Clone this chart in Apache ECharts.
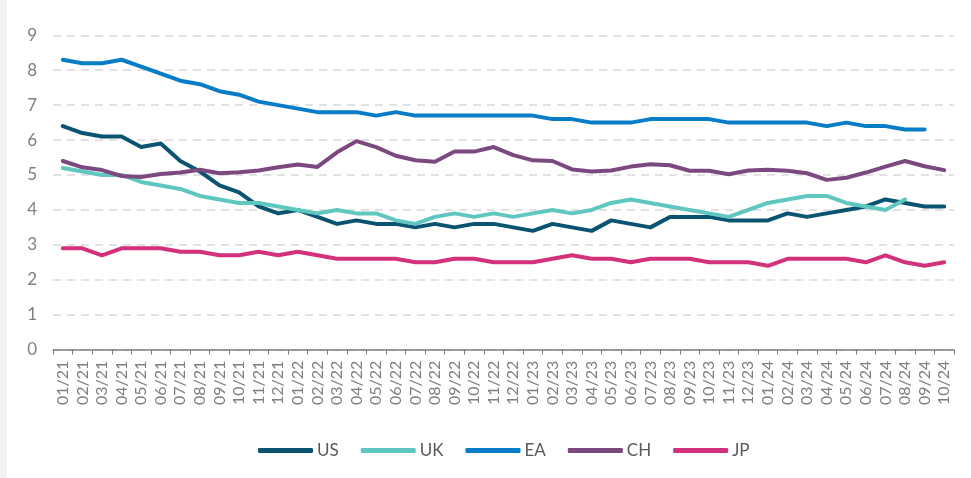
<!DOCTYPE html>
<html>
<head>
<meta charset="utf-8">
<script src="https://cdn.jsdelivr.net/npm/echarts@6/dist/echarts.min.js"></script>
<style>
html,body{margin:0;padding:0;background:#fff;}
#strip{position:absolute;left:0;top:0;width:7px;height:478px;background:#f2f2f2;}
#chart{position:absolute;left:0;top:0;width:971px;height:478px;}
</style>
</head>
<body>
<div id="strip"></div>
<div id="chart"></div>
<script>
const categories = ["01/21","02/21","03/21","04/21","05/21","06/21","07/21","08/21","09/21","10/21","11/21","12/21",
"01/22","02/22","03/22","04/22","05/22","06/22","07/22","08/22","09/22","10/22","11/22","12/22",
"01/23","02/23","03/23","04/23","05/23","06/23","07/23","08/23","09/23","10/23","11/23","12/23",
"01/24","02/24","03/24","04/24","05/24","06/24","07/24","08/24","09/24","10/24"];

const usValues = [6.4,6.2,6.1,6.1,5.8,5.9,5.4,5.1,4.7,4.5,4.1,3.9,4.0,3.8,3.6,3.7,3.6,3.6,3.5,3.6,3.5,3.6,3.6,3.5,3.4,3.6,3.5,3.4,3.7,3.6,3.5,3.8,3.8,3.8,3.7,3.7,3.7,3.9,3.8,3.9,4.0,4.1,4.3,4.2,4.1,4.1];
const ukValues = [5.2,5.1,5.0,5.0,4.8,4.7,4.6,4.4,4.3,4.2,4.2,4.1,4.0,3.9,4.0,3.9,3.9,3.7,3.6,3.8,3.9,3.8,3.9,3.8,3.9,4.0,3.9,4.0,4.2,4.3,4.2,4.1,4.0,3.9,3.8,4.0,4.2,4.3,4.4,4.4,4.2,4.1,4.0,4.3,null,null];
const eaValues = [8.3,8.2,8.2,8.3,8.1,7.9,7.7,7.6,7.4,7.3,7.1,7.0,6.9,6.8,6.8,6.8,6.7,6.8,6.7,6.7,6.7,6.7,6.7,6.7,6.7,6.6,6.6,6.5,6.5,6.5,6.6,6.6,6.6,6.6,6.5,6.5,6.5,6.5,6.5,6.4,6.5,6.4,6.4,6.3,6.3,null];
const chValues = [5.4,5.22,5.14,4.97,4.94,5.03,5.07,5.15,5.05,5.08,5.13,5.22,5.3,5.23,5.65,5.97,5.8,5.55,5.42,5.38,5.67,5.67,5.8,5.57,5.42,5.4,5.16,5.1,5.13,5.24,5.31,5.28,5.12,5.12,5.02,5.13,5.15,5.12,5.05,4.86,4.92,5.07,5.24,5.4,5.25,5.14];
const jpValues = [2.9,2.9,2.7,2.9,2.9,2.9,2.8,2.8,2.7,2.7,2.8,2.7,2.8,2.7,2.6,2.6,2.6,2.6,2.5,2.5,2.6,2.6,2.5,2.5,2.5,2.6,2.7,2.6,2.6,2.5,2.6,2.6,2.6,2.5,2.5,2.5,2.4,2.6,2.6,2.6,2.6,2.5,2.7,2.5,2.4,2.5];
const yTicks = [0,1,2,3,4,5,6,7,8,9];

const seriesNames = ["US","UK","EA","CH","JP"];
const seriesData = [usValues, ukValues, eaValues, chValues, jpValues];
const colors = ["#0b5471","#5fc7bf","#087dc7","#7c4880","#d3317b"];

const chart = echarts.init(document.getElementById('chart'), null, {renderer:'canvas'});
chart.setOption({
  backgroundColor: 'transparent',
  animation: false,
  color: colors,
  grid: {left: 53, right: 17, top: 35.3, bottom: 128.4, containLabel: false},
  legend: {
    data: seriesNames,
    left: 253,
    top: 437,
    icon: 'roundRect',
    itemWidth: 55,
    itemHeight: 5,
    itemGap: 22,
    textStyle: {color: '#595959', fontFamily: 'Lato', fontSize: 17, padding: [0,0,0,-1]}
  },
  xAxis: {
    type: 'category',
    data: categories,
    boundaryGap: true,
    axisLine: {lineStyle: {color: '#7f7f7f', width: 1.5}},
    axisTick: {show: true, length: 5, lineStyle: {color: '#7f7f7f', width: 1}},
    axisLabel: {interval: 0, rotate: 90, color: '#7f7f7f', fontFamily: 'Lato', fontSize: 16, margin: 11},
    splitLine: {show: false}
  },
  yAxis: {
    type: 'value',
    min: yTicks[0],
    max: yTicks[yTicks.length-1],
    interval: 1,
    axisLine: {show: false},
    axisTick: {show: false},
    axisLabel: {color: '#7f7f7f', fontFamily: 'Lato', fontSize: 17, margin: 16},
    splitLine: {show: true, lineStyle: {color: '#d9d9d9', width: 1.5, type: [8,6]}}
  },
  series: seriesNames.map((n, i) => ({
    name: n,
    type: 'line',
    data: seriesData[i],
    showSymbol: false,
    symbol: 'none',
    connectNulls: false,
    lineStyle: {width: 4, color: colors[i], cap: 'round', join: 'round'},
    itemStyle: {color: colors[i]},
    z: 2 + i
  }))
});
</script>
</body>
</html>
